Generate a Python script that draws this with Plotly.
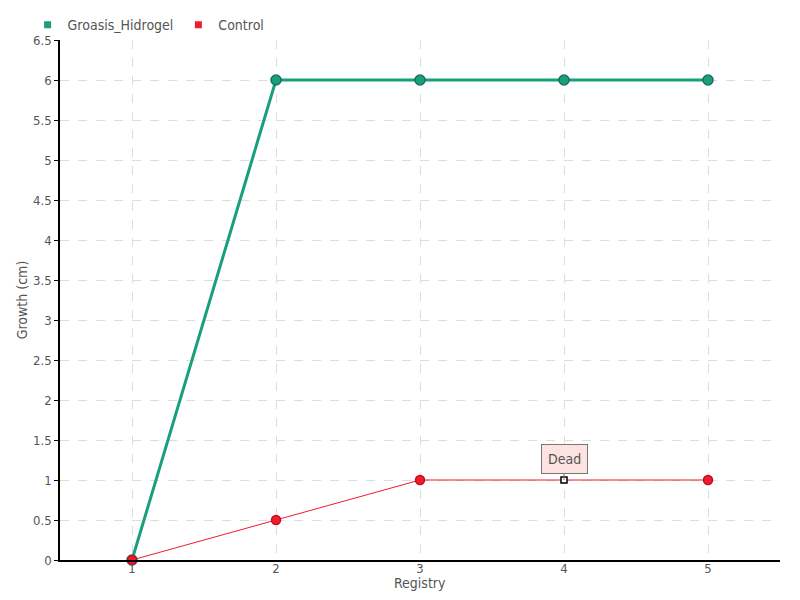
import plotly.graph_objects as go

registry = [1, 2, 3, 4, 5]
groasis_hidrogel = [0, 6, 6, 6, 6]
control = [0, 0.5, 1, 1, 1]
y_ticks = [0, 0.5, 1, 1.5, 2, 2.5, 3, 3.5, 4, 4.5, 5, 5.5, 6, 6.5]
y_tick_labels = ["0", "0.5", "1", "1.5", "2", "2.5", "3", "3.5", "4", "4.5", "5", "5.5", "6", "6.5"]
dead_index = 3

GREEN = "#1b9e7e"
GREEN_DARK = "#15735c"
RED = "#f21b2d"
FONT = "Liberation Sans Narrow, DejaVu Sans Condensed, Arial Narrow, sans-serif"

fig = go.Figure()
fig.add_trace(go.Scatter(
    x=registry, y=groasis_hidrogel, mode="lines+markers", name="Groasis_Hidrogel",
    line=dict(color=GREEN, width=3),
    marker=dict(size=10, color=GREEN, opacity=1, line=dict(color=GREEN_DARK, width=1.5)),
    showlegend=False, cliponaxis=False))

ctrl_symbols = ["circle"] * len(control)
ctrl_colors = [RED] * len(control)
ctrl_sizes = [9] * len(control)
ctrl_line_colors = ["#c0101e"] * len(control)
ctrl_symbols[dead_index] = "square"
ctrl_colors[dead_index] = "white"
ctrl_sizes[dead_index] = 6
ctrl_line_colors[dead_index] = "black"
fig.add_trace(go.Scatter(
    x=registry, y=control, mode="lines+markers", name="Control",
    line=dict(color=RED, width=1),
    marker=dict(size=ctrl_sizes, color=ctrl_colors, symbol=ctrl_symbols, opacity=1,
                line=dict(color=ctrl_line_colors, width=1.5)),
    showlegend=False, cliponaxis=False))

# legend entries
fig.add_trace(go.Scatter(x=[None], y=[None], mode="markers", name="Groasis_Hidrogel",
                         marker=dict(symbol="square", size=7, color=GREEN)))
fig.add_trace(go.Scatter(x=[None], y=[None], mode="markers", name="Control",
                         marker=dict(symbol="square", size=7, color=RED)))

fig.add_annotation(x=registry[dead_index], y=control[dead_index], text="Dead",
                   showarrow=True, arrowhead=0, arrowwidth=1, arrowcolor="#777777",
                   ax=0, ay=-21, bgcolor="#fde2e2", bordercolor="#777777",
                   borderwidth=1, borderpad=6,
                   font=dict(family=FONT, size=14, color="#555555"))

# x axis title placed just below the tick labels
fig.add_annotation(xref="paper", yref="paper", x=0.5, y=0, yanchor="top", yshift=-13,
                   text="Registry", showarrow=False,
                   font=dict(family=FONT, size=14, color="#555555"))

fig.update_layout(
    width=800, height=600,
    paper_bgcolor="white", plot_bgcolor="white",
    margin=dict(l=52, r=28, t=32, b=48, autoexpand=False),
    font=dict(family=FONT, size=13, color="#555555"),
    legend=dict(orientation="h", x=-0.045, xanchor="left", yref="container",
                y=0.998, yanchor="top",
                font=dict(family=FONT, size=14, color="#555555"),
                itemwidth=30, tracegroupgap=0, bgcolor="rgba(0,0,0,0)"),
    xaxis=dict(range=[0.5, 5.5], tickvals=registry, ticktext=[str(r) for r in registry],
               showgrid=True, gridcolor="#dddddd", griddash="dash", gridwidth=1,
               showline=True, linecolor="black", linewidth=1.5, zeroline=False,
               ticks="", automargin=False, tickfont=dict(size=13),
               ticklabelstandoff=-4),
    yaxis=dict(range=[0, 6.5], tickvals=y_ticks, ticktext=y_tick_labels,
               showgrid=True, gridcolor="#dddddd", griddash="dash", gridwidth=1,
               showline=True, linecolor="black", linewidth=1.5, zeroline=False,
               ticks="outside", ticklen=4, tickcolor="black", automargin=False,
               tickfont=dict(size=13),
               title=dict(text="Growth (cm)", standoff=2, font=dict(size=14))),
)

fig.write_html("out.html")
